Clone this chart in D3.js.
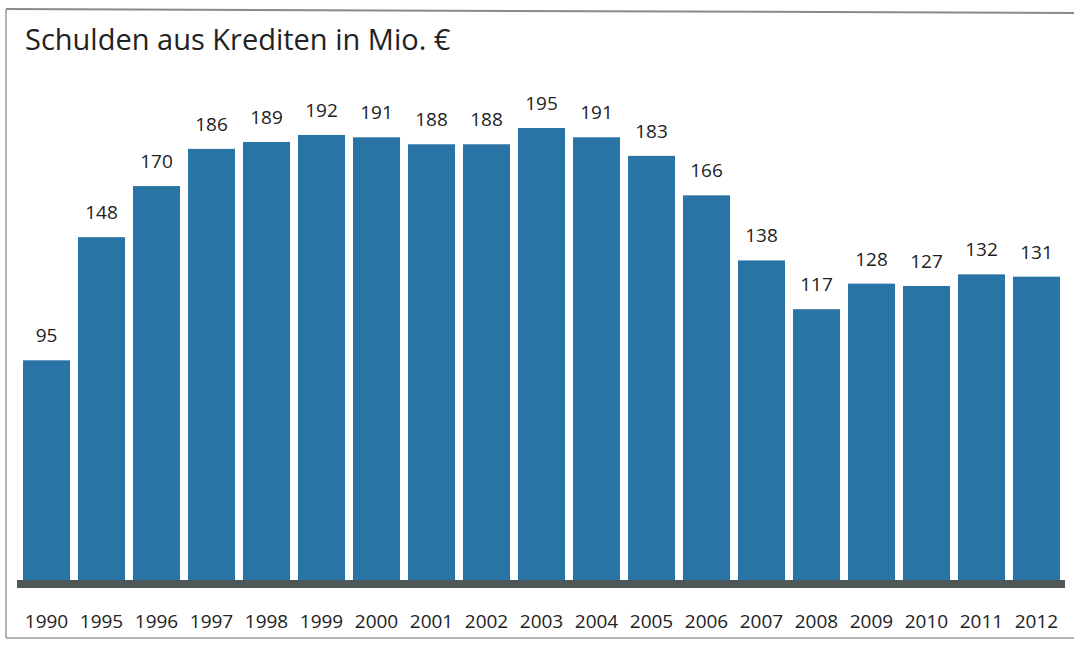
<!DOCTYPE html>
<html>
<head>
<meta charset="utf-8">
<script src="https://cdn.jsdelivr.net/npm/d3@7"></script>
<style>
  body { margin: 0; background: #fff; }
  svg { display: block; font-family: "Open Sans", sans-serif; }
</style>
</head>
<body>
<svg id="chart" width="1074" height="649"></svg>
<script>
// Schulden aus Krediten in Mio. Euro
const years = ['1990','1995','1996','1997','1998','1999','2000','2001','2002','2003','2004','2005','2006','2007','2008','2009','2010','2011','2012'];
const debts = [95, 148, 170, 186, 189, 192, 191, 188, 188, 195, 191, 183, 166, 138, 117, 128, 127, 132, 131];
const title = 'Schulden aus Krediten in Mio. €';

const svg = d3.select('#chart');
const data = years.map((y, i) => ({year: y, value: debts[i]}));

// frame (left, top, bottom edges only, like the scan)
svg.append('line').attr('x1', 6).attr('y1', 9).attr('x2', 1074).attr('y2', 13)
  .attr('stroke', '#8a8a8a').attr('stroke-width', 2);
svg.append('line').attr('x1', 6).attr('y1', 9).attr('x2', 6).attr('y2', 638)
  .attr('stroke', '#9a9a9a').attr('stroke-width', 1.5);
svg.append('line').attr('x1', 6).attr('y1', 638).attr('x2', 1074).attr('y2', 638)
  .attr('stroke', '#9a9a9a').attr('stroke-width', 1.5);

svg.append('text')
  .attr('x', 25).attr('y', 50)
  .attr('fill', '#222')
  .attr('font-size', 29)
  .text(title);

const x = d3.scaleBand().domain(years).range([19, 1064]).paddingInner(0.145).paddingOuter(0.0727);
const y = d3.scaleLinear().domain([0, 195]).range([581, 128]);

svg.append('g').selectAll('rect')
  .data(data)
  .enter().append('rect')
  .attr('x', d => x(d.year))
  .attr('y', d => y(d.value))
  .attr('width', x.bandwidth())
  .attr('height', d => y(0) - y(d.value))
  .attr('fill', '#2a74a5');

// baseline
svg.append('rect')
  .attr('x', 17).attr('y', y(0) - 1)
  .attr('width', 1048).attr('height', 8)
  .attr('fill', '#4f5758');

// value labels
svg.append('g').selectAll('text')
  .data(data)
  .enter().append('text')
  .attr('x', d => x(d.year) + x.bandwidth() / 2)
  .attr('y', d => y(d.value) - 18)
  .attr('text-anchor', 'middle')
  .attr('fill', '#222')
  .attr('font-size', 19)
  .text(d => d.value);

// year axis
const axis = svg.append('g').attr('transform', `translate(0,${y(0)})`)
  .call(d3.axisBottom(x).tickSize(0).tickPadding(0));
axis.select('.domain').remove();
axis.selectAll('text')
  .attr('y', 628 - y(0)).attr('dy', null)
  .attr('fill', '#222').attr('font-size', 19)
  .attr('font-family', '"Open Sans", sans-serif');
</script>
</body>
</html>
